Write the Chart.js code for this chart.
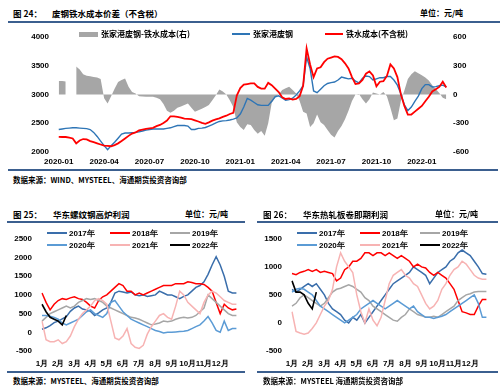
<!DOCTYPE html>
<html>
<head>
<meta charset="utf-8">
<script src="https://cdn.jsdelivr.net/npm/chart.js@4.4.1/dist/chart.umd.min.js"></script>
<style>
  body { margin: 0; background: #fff; }
  #page { position: relative; width: 500px; height: 389px; overflow: hidden; background: #fff; }
  .txt { position: absolute; font-family: "Noto Sans CJK SC", sans-serif; font-weight: 700; font-size: 8.5px; line-height: 10px; color: #000; white-space: nowrap; }
  .rule { position: absolute; height: 2px; background: #3b5f8f; }
  canvas { position: absolute; }
  .lg { position: absolute; display: flex; align-items: center; font-family: "Noto Sans CJK SC", sans-serif; font-weight: 700; font-size: 8px; line-height: 10px; white-space: nowrap; }
  .lg i { display: inline-block; margin-right: 3px; }
  .yl { position: absolute; display: grid; grid-template-columns: 63px 60px 60px; grid-auto-rows: 12px; font-family: "Liberation Sans", Arial, sans-serif; font-weight: 700; font-size: 8px; }
  .yl div { display: flex; align-items: center; }
  .yl i { display: inline-block; width: 20px; height: 2px; margin-right: 2px; }
</style>
</head>
<body>
<div id="page">
  <div class="txt" style="left:13px;top:8px;">图 24：</div>
  <div class="txt" style="left:52px;top:8px;">废钢铁水成本价差（不含税）</div>
  <div class="txt" style="left:420px;top:8px;font-size:8px;">单位：元/吨</div>
  <div class="rule" style="left:8px;top:21px;width:492px;"></div>
  <canvas id="spreadChart" width="500" height="146" style="left:0;top:24px;"></canvas>
  <div id="topLegend"></div>
  <div class="rule" style="left:8px;top:169px;width:490px;"></div>
  <div class="txt" style="left:13px;top:175px;font-size:7.5px;">数据来源：WIND、MYSTEEL、海通期货投资咨询部</div>

  <div class="txt" style="left:13px;top:209px;">图 25：</div>
  <div class="txt" style="left:53px;top:209px;">华东螺纹钢高炉利润</div>
  <div class="txt" style="left:185px;top:209px;font-size:8px;">单位：元/吨</div>
  <div class="rule" style="left:7px;top:221px;width:238px;"></div>
  <canvas id="rebarChart" width="250" height="146" style="left:0;top:224px;"></canvas>
  <div class="yl" id="rebarLegend" style="left:47px;top:227px;"></div>
  <div class="rule" style="left:7px;top:371px;width:238px;"></div>
  <div class="txt" style="left:13px;top:376px;font-size:7.5px;">数据来源：MYSTEEL、海通期货投资咨询部</div>

  <div class="txt" style="left:263px;top:209px;">图 26：</div>
  <div class="txt" style="left:303px;top:209px;">华东热轧板卷即期利润</div>
  <div class="txt" style="left:435px;top:209px;font-size:8px;">单位：元/吨</div>
  <div class="rule" style="left:257px;top:221px;width:241px;"></div>
  <canvas id="coilChart" width="250" height="146" style="left:250px;top:224px;"></canvas>
  <div class="yl" id="coilLegend" style="left:297px;top:227px;"></div>
  <div class="rule" style="left:257px;top:371px;width:241px;"></div>
  <div class="txt" style="left:263px;top:376px;font-size:7.5px;">数据来源：MYSTEEL 海通期货投资咨询部</div>
</div>
<script>
// ---- 图24 weekly data, starting 2020-01-01 ----
const firstWeek = '2020-01-01';
const topNames = ['张家港废钢-铁水成本(右)', '张家港废钢', '铁水成本(不含税)'];

// 张家港废钢-铁水成本 (right axis)
const scrapSpread = [140,140,135,null,null,290,260,210,195,190,
  180,175,160,-40,-95,-20,60,130,150,165,
  80,25,10,-20,-22,-25,-25,-25,-35,-50,
  -100,-170,-190,-170,-140,-125,-110,-95,-140,-180,
  -165,-150,-130,-110,-60,-10,50,30,0,-60,
  -130,-290,-340,-370,-310,-320,-370,-410,-380,-430,
  -300,-90,-30,0,45,65,80,45,10,-70,
  -180,-200,-340,-300,-210,-290,-320,-370,-420,-450,
  -380,-330,-260,-170,-70,0,5,-50,-95,-50,
  20,10,0,25,-20,-140,-270,-250,-70,40,
  160,210,240,220,200,175,145,95,55,15,
  -35,-50];

// 张家港废钢
const scrapPrice = [2390,2400,2410,2415,2420,2420,2415,2410,2405,2390,
  2340,2270,2190,2110,2040,2110,2170,2240,2310,2330,
  2330,2335,2340,2350,2365,2380,2390,2400,2400,2400,
  2400,2410,2420,2440,2460,2460,2460,2450,2390,2390,
  2410,2415,2425,2450,2475,2505,2530,2540,2545,2555,
  2570,2590,2660,2780,2930,2900,2860,2820,2810,2810,
  2810,2880,2960,2975,2940,2900,2910,2935,2990,3060,
  3150,3650,3450,3060,3030,3090,3150,3190,3205,3215,
  3250,3300,3285,3270,3280,3230,3200,3280,3320,3310,
  3250,3270,3290,3290,3310,3310,3250,3160,3010,2820,
  2720,2780,2880,2970,3100,3170,3170,3130,3135,3150,
  3160,3130];

// 铁水成本(不含税)
const hotMetalCost = [2262,2260,2260,2250,2235,2150,2200,2225,2220,2190,
  2170,2150,2130,2110,2105,2100,2120,2150,2190,2235,
  2280,2320,2340,2375,2390,2400,2410,2420,2450,2470,
  2505,2545,2620,2620,2610,2595,2580,2575,2570,2550,
  2530,2505,2490,2515,2545,2565,2585,2610,2630,2660,
  2680,2980,3110,3170,3180,3190,3190,3130,3100,3100,
  3200,3160,3100,3040,2950,2920,2930,2910,2920,2970,
  3150,3800,3520,3300,3450,3470,3560,3620,3640,3660,
  3650,3610,3540,3450,3300,3180,3190,3250,3360,3400,
  3330,3140,3220,3230,3320,3520,3450,3300,3000,2800,
  2650,2650,2700,2750,2800,2880,2960,3050,3090,3130,
  3220,3120];

// ---- 图25 / 图26: four points per month, 1月 to year end ----
const monthLabels = ['1月','2月','3月','4月','5月','6月','7月','8月','9月','10月','11月','12月'];
const yearNames = ['2017年','2018年','2019年','2020年','2021年','2022年'];
const yearColors = ['#3a6eab','#ff0000','#a6a6a6','#5b9bd5','#f7b3b3','#000000'];

const rebar2017 = [80,120,180,260,300,360,420,560,650,700,620,600,560,450,520,600,650,800,1050,1100,1080,1050,1080,1000,980,1000,960,980,1000,1100,1050,1000,1000,950,900,960,1000,1100,1200,1250,1350,1550,1800,2020,1800,1500,1100,1050,1050];
const rebar2018 = [1050,800,600,750,850,900,880,920,950,900,880,800,700,650,850,950,1000,1100,1200,1300,1250,1100,1100,1000,1050,1000,1050,1100,1150,1200,1250,1250,1250,1300,1300,1300,1350,1330,1300,1300,1280,1200,1100,800,500,750,650,600,620];
const rebar2019 = [300,400,500,550,600,650,700,650,700,800,850,900,880,900,850,800,700,650,600,550,500,450,400,380,350,300,250,200,220,250,300,280,300,350,380,400,380,400,450,550,650,1000,900,800,700,600,500,450,450];
const rebar2020 = [450,450,430,400,350,250,200,250,300,350,450,550,600,500,450,400,500,800,850,700,550,450,350,300,250,200,150,100,50,20,-20,0,0,10,20,30,50,100,150,200,300,420,250,50,0,300,50,100,100];
const rebar2021 = [300,-200,-250,-250,-200,-300,-250,-100,150,350,500,600,700,850,900,850,750,300,-150,-200,-100,100,-300,-400,-430,-350,-50,150,300,450,500,400,350,700,1100,1000,800,700,600,500,800,1000,1100,1050,950,850,800,750,750];
const rebar2022 = [750,550,400,350,300,200,450];

const coil2017 = [600,550,600,650,700,650,700,600,500,350,250,200,150,50,0,100,50,150,0,100,200,300,400,500,600,700,750,800,850,900,1000,950,900,850,700,800,900,950,1000,1100,1150,1250,1300,1250,1200,1100,1000,880,870];
const coil2018 = [880,860,900,920,950,920,950,900,920,900,880,750,800,950,1000,1100,1100,1150,1250,1250,1200,1250,1250,1200,1250,1200,1150,1200,1150,1100,1000,1050,1000,980,900,850,900,850,800,700,600,400,200,180,150,150,300,420,420];
const coil2019 = [300,350,450,500,450,400,350,300,350,450,550,600,620,650,680,650,600,550,450,400,300,250,200,150,100,50,30,100,150,250,200,150,130,100,100,120,100,150,200,250,300,400,450,500,520,550,560,560,560];
const coil2020 = [550,600,620,600,550,500,400,300,250,200,150,100,50,0,50,100,150,250,300,350,400,350,300,250,300,350,400,350,300,250,300,200,150,100,100,80,100,120,150,200,250,300,350,400,450,500,350,100,100];
const coil2021 = [200,-150,-180,-200,-180,-100,0,150,300,400,600,1000,1250,1100,1000,900,500,200,0,250,50,-50,100,400,700,850,900,950,850,800,700,650,500,350,250,300,400,600,700,850,950,1000,1100,1050,950,850,800,780,780];
const coil2022 = [750,550,550,500,350,250,550];

const tickFont = { family: '"Liberation Sans", Arial, sans-serif', size: 8, weight: 'bold' };
const plainNum = v => String(v);

// weekly category labels
const weekLabels = [];
const d0 = new Date(firstWeek + 'T00:00:00');
for (let i = 0; i < scrapPrice.length; i++) {
  const d = new Date(d0.getTime() + i * 7 * 86400000);
  weekLabels.push(d.toISOString().slice(0, 10));
}

function quarterTick(i) {
  const end = new Date(new Date(weekLabels[i] + 'T00:00:00').getTime() + 6 * 86400000);
  const m = end.getMonth();
  if (end.getDate() <= 7 && m % 3 === 0) {
    return end.getFullYear() + '-' + String(m + 1).padStart(2, '0');
  }
  return '';
}

const noGrid = { display: false, drawTicks: false };

new Chart(document.getElementById('spreadChart').getContext('2d'), {
  type: 'line',
  data: {
    labels: weekLabels,
    datasets: [
      { label: topNames[2], data: hotMetalCost, borderColor: '#ff0000', borderWidth: 1.8, pointRadius: 0, yAxisID: 'y' },
      { label: topNames[1], data: scrapPrice, borderColor: '#2e75b6', borderWidth: 1.4, pointRadius: 0, yAxisID: 'y' },
      // spread drawn as a filled area down to zero
      { label: topNames[0], data: scrapSpread, backgroundColor: '#a6a6a6', borderWidth: 0, pointRadius: 0, fill: 'origin', yAxisID: 'y1' }
    ]
  },
  options: {
    responsive: false,
    animation: false,
    layout: { padding: { top: 9 } },
    plugins: { legend: { display: false }, tooltip: { enabled: false } },
    scales: {
      x: {
        offset: true, grid: noGrid, border: { display: false },
        ticks: { autoSkip: false, maxRotation: 0, padding: 5, font: tickFont, color: '#000', callback: (v, i) => quarterTick(i) },
        afterFit: s => { s.height = 18; }
      },
      y: {
        position: 'left', min: 2000, max: 4000, grid: noGrid, border: { display: false },
        ticks: { stepSize: 500, padding: 8, font: tickFont, color: '#000', callback: plainNum },
        afterFit: s => { s.width = 57; }
      },
      y1: {
        position: 'right', min: -600, max: 600, grid: noGrid, border: { display: false },
        ticks: { stepSize: 300, padding: 5, font: tickFont, color: '#000', callback: plainNum },
        afterFit: s => { s.width = 52; }
      }
    }
  }
});

// top legend
const topLegend = document.getElementById('topLegend');
const topKeys = [
  { x: 79, sw: 19, sh: 5, c: '#a6a6a6' },
  { x: 232, sw: 18, sh: 2, c: '#2e75b6' },
  { x: 325, sw: 18, sh: 2, c: '#ff0000' }
];
topKeys.forEach((k, i) => {
  const el = document.createElement('div');
  el.className = 'lg';
  el.style.left = k.x + 'px';
  el.style.top = '29px';
  el.innerHTML = '<i style="width:' + k.sw + 'px;height:' + k.sh + 'px;background:' + k.c + '"></i>' + topNames[i];
  topLegend.appendChild(el);
});

function makeYearChart(id, legendId, series, min, max) {
  const labels = series[0].map((v, i) => i);
  new Chart(document.getElementById(id).getContext('2d'), {
    type: 'line',
    data: {
      labels: labels,
      datasets: series.map((s, k) => ({
        label: yearNames[k], data: s, borderColor: yearColors[k],
        borderWidth: k === 5 ? 1.6 : 1.5, pointRadius: 0, order: 6 - k
      }))
    },
    options: {
      responsive: false,
      animation: false,
      layout: { padding: { top: 9, right: 13.6 } },
      plugins: { legend: { display: false }, tooltip: { enabled: false } },
      scales: {
        x: {
          grid: noGrid, border: { display: false },
          ticks: { autoSkip: false, maxRotation: 0, padding: 8, font: tickFont, color: '#000',
            callback: (v, i) => (i % 4 === 0 && i < 48) ? monthLabels[i / 4] : '' },
          afterFit: s => { s.height = 19; }
        },
        y: {
          min: min, max: max, grid: noGrid, border: { display: false },
          ticks: { stepSize: 500, padding: 10, font: tickFont, color: '#000', callback: plainNum },
          afterFit: s => { s.width = 42; }
        }
      }
    }
  });
  const lg = document.getElementById(legendId);
  yearNames.forEach((n, k) => {
    const el = document.createElement('div');
    el.innerHTML = '<i style="background:' + yearColors[k] + '"></i>' + n;
    lg.appendChild(el);
  });
}

makeYearChart('rebarChart', 'rebarLegend', [rebar2017, rebar2018, rebar2019, rebar2020, rebar2021, rebar2022], -500, 2500);
makeYearChart('coilChart', 'coilLegend', [coil2017, coil2018, coil2019, coil2020, coil2021, coil2022], -500, 1500);
</script>
</body>
</html>
